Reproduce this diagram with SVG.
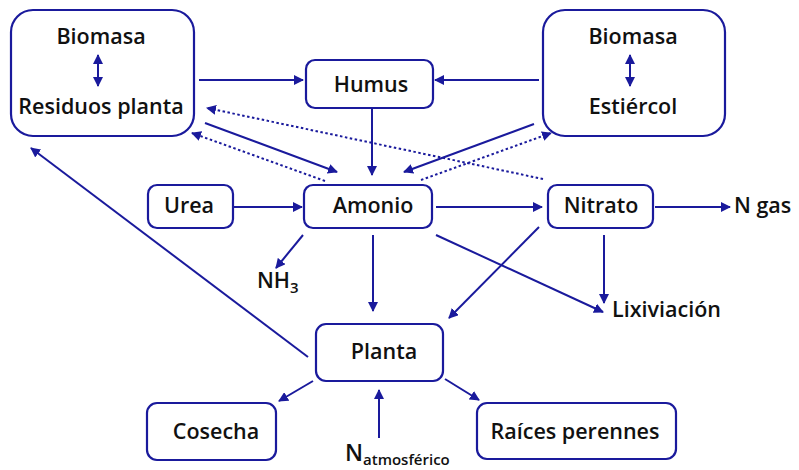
<svg xmlns="http://www.w3.org/2000/svg" width="799" height="470" viewBox="0 0 799 470">
  <style>
    .box { fill: #ffffff; stroke: #1a1a9c; stroke-width: 2.2; }
    .lbl { font-family: "Open Sans", "DejaVu Sans", sans-serif; font-weight: 600; font-size: 21.5px; fill: #111111; text-anchor: middle; }
    .free { text-anchor: start; }
    .sub { font-size: 15px; }
    .edge { fill: none; stroke: #1a1a9c; stroke-width: 2; marker-end: url(#ah); }
    .dot { stroke-dasharray: 2.5 2.5; }
  </style>
  <defs>
    <marker id="ah" viewBox="0 0 10 10" refX="9" refY="5" markerWidth="5" markerHeight="5" orient="auto-start-reverse" markerUnits="strokeWidth">
      <path d="M0,0 L10,5 L0,10 z" fill="#1a1a9c"/>
    </marker>
  </defs>
  <rect width="799" height="470" fill="#ffffff"/>

  <g id="residuos">
    <rect class="box" x="11" y="10" width="183" height="126" rx="22"/>
    <text class="lbl" x="101" y="44">Biomasa</text>
    <text class="lbl" x="101" y="114">Residuos planta</text>
  </g>
  <g id="estiercol">
    <rect class="box" x="543" y="10" width="182" height="126" rx="22"/>
    <text class="lbl" x="633" y="44">Biomasa</text>
    <text class="lbl" x="633" y="114">Estiércol</text>
  </g>
  <g id="humus">
    <rect class="box" x="306" y="60" width="127" height="48" rx="9"/>
    <text class="lbl" x="371" y="92">Humus</text>
  </g>
  <g id="urea">
    <rect class="box" x="148" y="185" width="85" height="43" rx="9"/>
    <text class="lbl" x="189" y="213">Urea</text>
  </g>
  <g id="amonio">
    <rect class="box" x="304" y="185" width="128" height="43" rx="9"/>
    <text class="lbl" x="373" y="213">Amonio</text>
  </g>
  <g id="nitrato">
    <rect class="box" x="548" y="185" width="105" height="43" rx="9"/>
    <text class="lbl" x="601" y="213">Nitrato</text>
  </g>
  <g id="ngas">
    <text class="lbl free" x="734" y="213">N gas</text>
  </g>
  <g id="nh3">
    <text class="lbl free" x="257" y="288">NH<tspan class="sub" dy="5">3</tspan></text>
  </g>
  <g id="lixiviacion">
    <text class="lbl free" x="612" y="317">Lixiviación</text>
  </g>
  <g id="planta">
    <rect class="box" x="316" y="324" width="127" height="57" rx="10"/>
    <text class="lbl" x="384" y="359">Planta</text>
  </g>
  <g id="cosecha">
    <rect class="box" x="147" y="403" width="129" height="57" rx="10"/>
    <text class="lbl" x="216" y="439">Cosecha</text>
  </g>
  <g id="raices">
    <rect class="box" x="477" y="403" width="199" height="56" rx="10"/>
    <text class="lbl" x="575" y="439">Raíces perennes</text>
  </g>
  <g id="natm">
    <text class="lbl free" x="345" y="461" style="font-size:23px">N<tspan class="sub" dy="4">atmosférico</tspan></text>
  </g>

  <!-- connectors -->
  <g id="connectors">
    <line class="edge" x1="199" y1="80" x2="303" y2="80"/>
    <line class="edge" x1="539" y1="80" x2="435" y2="80"/>
    <line class="edge" x1="372" y1="108" x2="372" y2="175"/>
    <line class="edge" x1="205" y1="123" x2="337" y2="172"/>
    <line class="edge dot" x1="325" y1="181" x2="192" y2="133"/>
    <line class="edge dot" x1="543" y1="179" x2="207" y2="108"/>
    <line class="edge" x1="534" y1="124" x2="404" y2="172"/>
    <line class="edge dot" x1="421" y1="180" x2="551" y2="133"/>
    <line class="edge" x1="233" y1="207" x2="302" y2="207"/>
    <line class="edge" x1="436" y1="207" x2="542" y2="207"/>
    <line class="edge" x1="655" y1="207" x2="730" y2="207"/>
    <line class="edge" x1="303" y1="235" x2="276" y2="268"/>
    <line class="edge" x1="373" y1="235" x2="373" y2="311"/>
    <line class="edge" x1="436" y1="235" x2="603" y2="312"/>
    <line class="edge" x1="539" y1="227" x2="449" y2="318"/>
    <line class="edge" x1="604" y1="235" x2="604" y2="303"/>
    <line class="edge" x1="308" y1="357" x2="31" y2="148"/>
    <line class="edge" x1="313" y1="381" x2="279" y2="401"/>
    <line class="edge" x1="445" y1="379" x2="479" y2="400"/>
    <line class="edge" x1="379" y1="438" x2="379" y2="390"/>
    <line class="edge" x1="98" y1="71" x2="98" y2="55"/>
    <line class="edge" x1="98" y1="71" x2="98" y2="86"/>
    <line class="edge" x1="630" y1="71" x2="630" y2="55"/>
    <line class="edge" x1="630" y1="71" x2="630" y2="86"/>
  </g>
</svg>
